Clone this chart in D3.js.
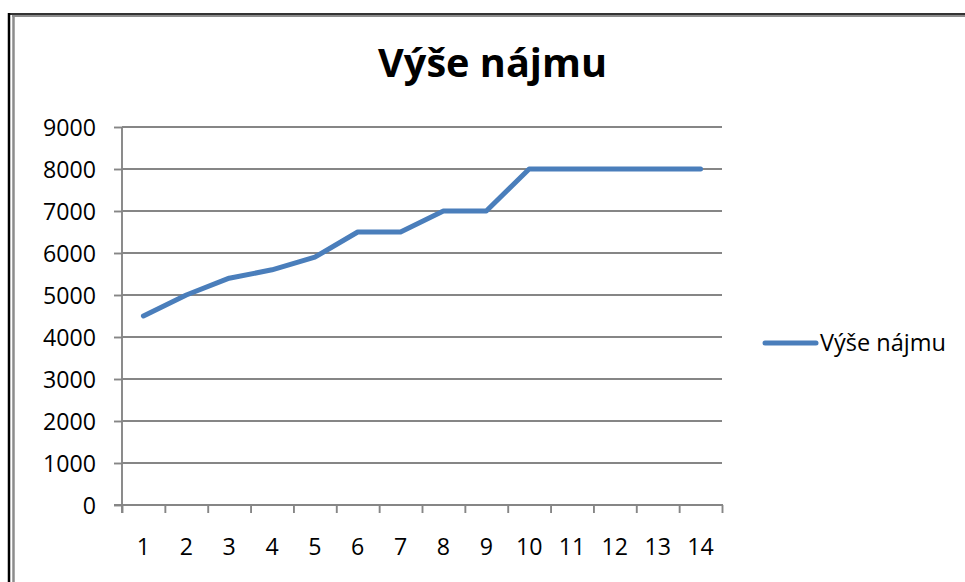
<!DOCTYPE html>
<html><head><meta charset="utf-8">
<script src="https://cdn.jsdelivr.net/npm/d3@7"></script>
<style>body{margin:0;background:#fff}svg{display:block}</style>
</head><body>
<svg id="c" width="965" height="582"></svg>
<script>
const categories = ["1","2","3","4","5","6","7","8","9","10","11","12","13","14"];
const rent = [4500,5000,5400,5600,5900,6500,6500,7000,7000,8000,8000,8000,8000,8000];
const yTicks = [0,1000,2000,3000,4000,5000,6000,7000,8000,9000];
const seriesName = "Výše nájmu";
const title = "Výše nájmu";

const svg = d3.select("#c");
const FONT = "'Open Sans', sans-serif";
const GRID = "#868686";
const BLUE = "#4A7EBB";
const GW = 1.9;
svg.append("rect").attr("width",965).attr("height",582).attr("fill","#fff");

// measure to get label font size
const probe = svg.append("text").attr("font-family",FONT).attr("font-size",23).text("9000");
const LFS = 23*53/probe.node().getComputedTextLength();
probe.remove();

// outer frame
svg.append("line").attr("x1",9).attr("x2",965).attr("y1",14).attr("y2",14).attr("stroke","#333").attr("stroke-width",2);
svg.append("line").attr("x1",9).attr("x2",9).attr("y1",13).attr("y2",582).attr("stroke","#000").attr("stroke-width",2.5);
svg.append("line").attr("x1",12).attr("x2",965).attr("y1",16).attr("y2",16).attr("stroke","#8c8c8c").attr("stroke-width",2);
svg.append("line").attr("x1",13.5).attr("x2",13.5).attr("y1",15).attr("y2",582).attr("stroke","#8c8c8c").attr("stroke-width",2.5);

const L = 122, R = 722, T = 127, B = 505;
const y = d3.scaleLinear().domain([0,9000]).range([B,T]);
const xb = d3.scaleLinear().domain([0,categories.length]).range([L,R]);
const x = d3.scaleBand().domain(categories).range([L,R]).paddingInner(0);

// gridlines
svg.append("g").selectAll("line").data(yTicks).join("line")
  .attr("x1",L).attr("x2",R).attr("y1",d=>y(d)).attr("y2",d=>y(d))
  .attr("stroke",GRID).attr("stroke-width",GW);

// y axis
const ya = svg.append("g").attr("transform",`translate(${L},0)`)
  .call(d3.axisLeft(y).tickValues(yTicks).tickSize(8).tickPadding(18).tickFormat(d3.format("d")));
ya.select(".domain").remove();
ya.selectAll(".tick line").attr("stroke",GRID).attr("stroke-width",GW);
ya.selectAll(".tick text").attr("font-family",FONT).attr("font-size",LFS).attr("fill","#000").attr("dy","0.36em");
svg.append("line").attr("x1",L).attr("x2",L).attr("y1",T).attr("y2",B+8).attr("stroke",GRID).attr("stroke-width",GW);

// x axis
const xa = svg.append("g").attr("transform",`translate(0,${B})`)
  .call(d3.axisBottom(xb).tickValues(d3.range(categories.length+1)).tickSize(8).tickFormat(""));
xa.select(".domain").remove();
xa.selectAll(".tick line").attr("stroke",GRID).attr("stroke-width",GW);
svg.append("line").attr("x1",L-8).attr("x2",R+1).attr("y1",B).attr("y2",B).attr("stroke",GRID).attr("stroke-width",GW);
svg.append("g").selectAll("text").data(categories).join("text")
  .attr("x",d=>x(d)+x.bandwidth()/2).attr("y",555)
  .attr("text-anchor","middle").attr("font-family",FONT).attr("font-size",LFS).attr("fill","#000")
  .text(d=>d);

// series line
const line = d3.line().x((d,i)=>x(categories[i])+x.bandwidth()/2).y(d=>y(d));
svg.append("path").datum(rent).attr("d",line).attr("fill","none")
  .attr("stroke",BLUE).attr("stroke-width",5).attr("stroke-linejoin","round").attr("stroke-linecap","round");

function fit(sel, target){
  const w = sel.node().getComputedTextLength();
  const fs = parseFloat(sel.attr("font-size"));
  sel.attr("font-size", fs*target/w);
}

// title
const t = svg.append("text").attr("x",492.5).attr("y",77).attr("text-anchor","middle")
  .attr("font-family",FONT).attr("font-weight","bold").attr("font-size",36).attr("fill","#000").text(title);
fit(t,229);

// legend
svg.append("line").attr("x1",765).attr("x2",816).attr("y1",343).attr("y2",343)
  .attr("stroke",BLUE).attr("stroke-width",5).attr("stroke-linecap","round");
const lt = svg.append("text").attr("x",820).attr("y",351).attr("font-family",FONT).attr("font-size",22).attr("fill","#000").text(seriesName);
fit(lt,126);
</script>
</body></html>
